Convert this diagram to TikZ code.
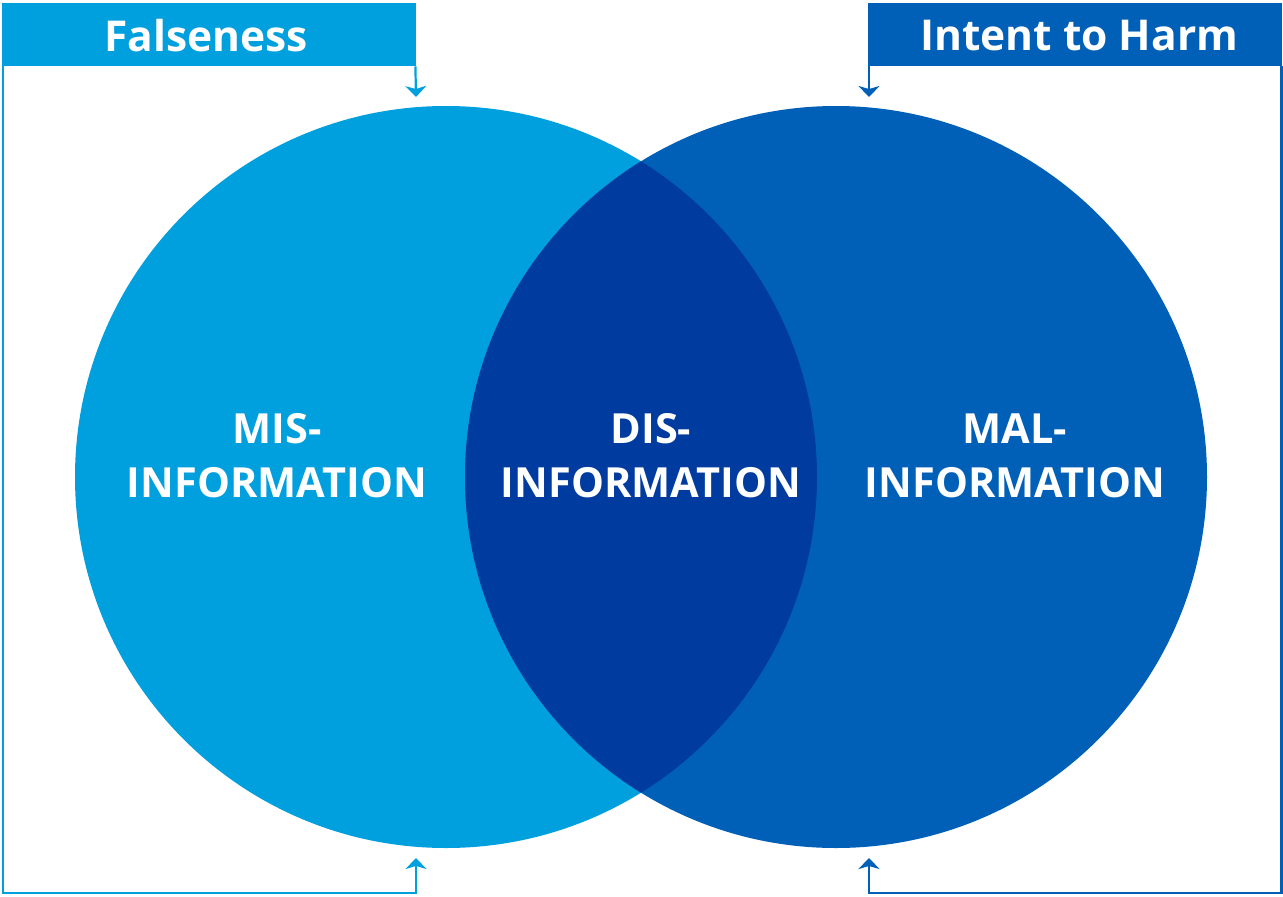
\documentclass[tikz,border=0pt]{standalone}
\usepackage{fontspec}
\setmainfont{Open Sans}
\usetikzlibrary{arrows.meta}
\definecolor{lightb}{HTML}{00A0DF}
\definecolor{midb}{HTML}{0060B8}
\definecolor{darkb}{HTML}{003C9F}
\begin{document}
\begin{tikzpicture}[x=1pt,y=-1pt,
  lbl/.style={text=white,font=\fontsize{42.5}{48}\selectfont\bfseries,inner sep=0pt,anchor=center},
  vlbl/.style={text=white,font=\fontsize{41.5}{54}\selectfont\bfseries,align=center,inner sep=0pt},
  conn/.style={line width=2.2pt,-{Stealth[length=11pt,width=21pt,inset=3pt]}}]
\useasboundingbox (0,0) rectangle (1283,897);
% circles
\fill[lightb] (446,477) circle[radius=371];
\fill[midb] (836,477) circle[radius=371];
\begin{scope}
\clip (446,477) circle[radius=371];
\fill[darkb] (836,477) circle[radius=371];
\end{scope}
% label boxes
\node[fill=lightb,minimum width=414,minimum height=63,inner sep=0pt,anchor=north west] (fbox) at (2,3) {};
\node[lbl] (ftext) at ([xshift=-3pt,yshift=-1pt]fbox.center) {Falseness};
\node[fill=midb,minimum width=414,minimum height=63,inner sep=0pt,anchor=north west] (hbox) at (868,3) {};
\node[lbl] (htext) at ([xshift=4pt,yshift=-1pt]hbox.center) {Intent to Harm};
% coordinates
\coordinate (ftop) at (416,97);
\coordinate (fbot) at (416,858);
\coordinate (htop) at (869,97);
\coordinate (hbot) at (869,858);
% connectors
\draw[lightb,conn] (fbox.south east) ++(-1,0) -- (ftop);
\draw[lightb,conn] (fbox.south west) ++(1,0) |- (416,893) -- (fbot);
\draw[midb,conn] (hbox.south west) ++(1,0) -- (htop);
\draw[midb,conn] (hbox.south east) ++(-1,0) |- (869,893) -- (hbot);
% circle texts
\node[vlbl] (mis) at (277,456) {MIS-\\INFORMATION};
\node[vlbl] (dis) at (651,456) {DIS-\\INFORMATION};
\node[vlbl] (mal) at (1015,456) {MAL-\\INFORMATION};
\end{tikzpicture}
\end{document}
